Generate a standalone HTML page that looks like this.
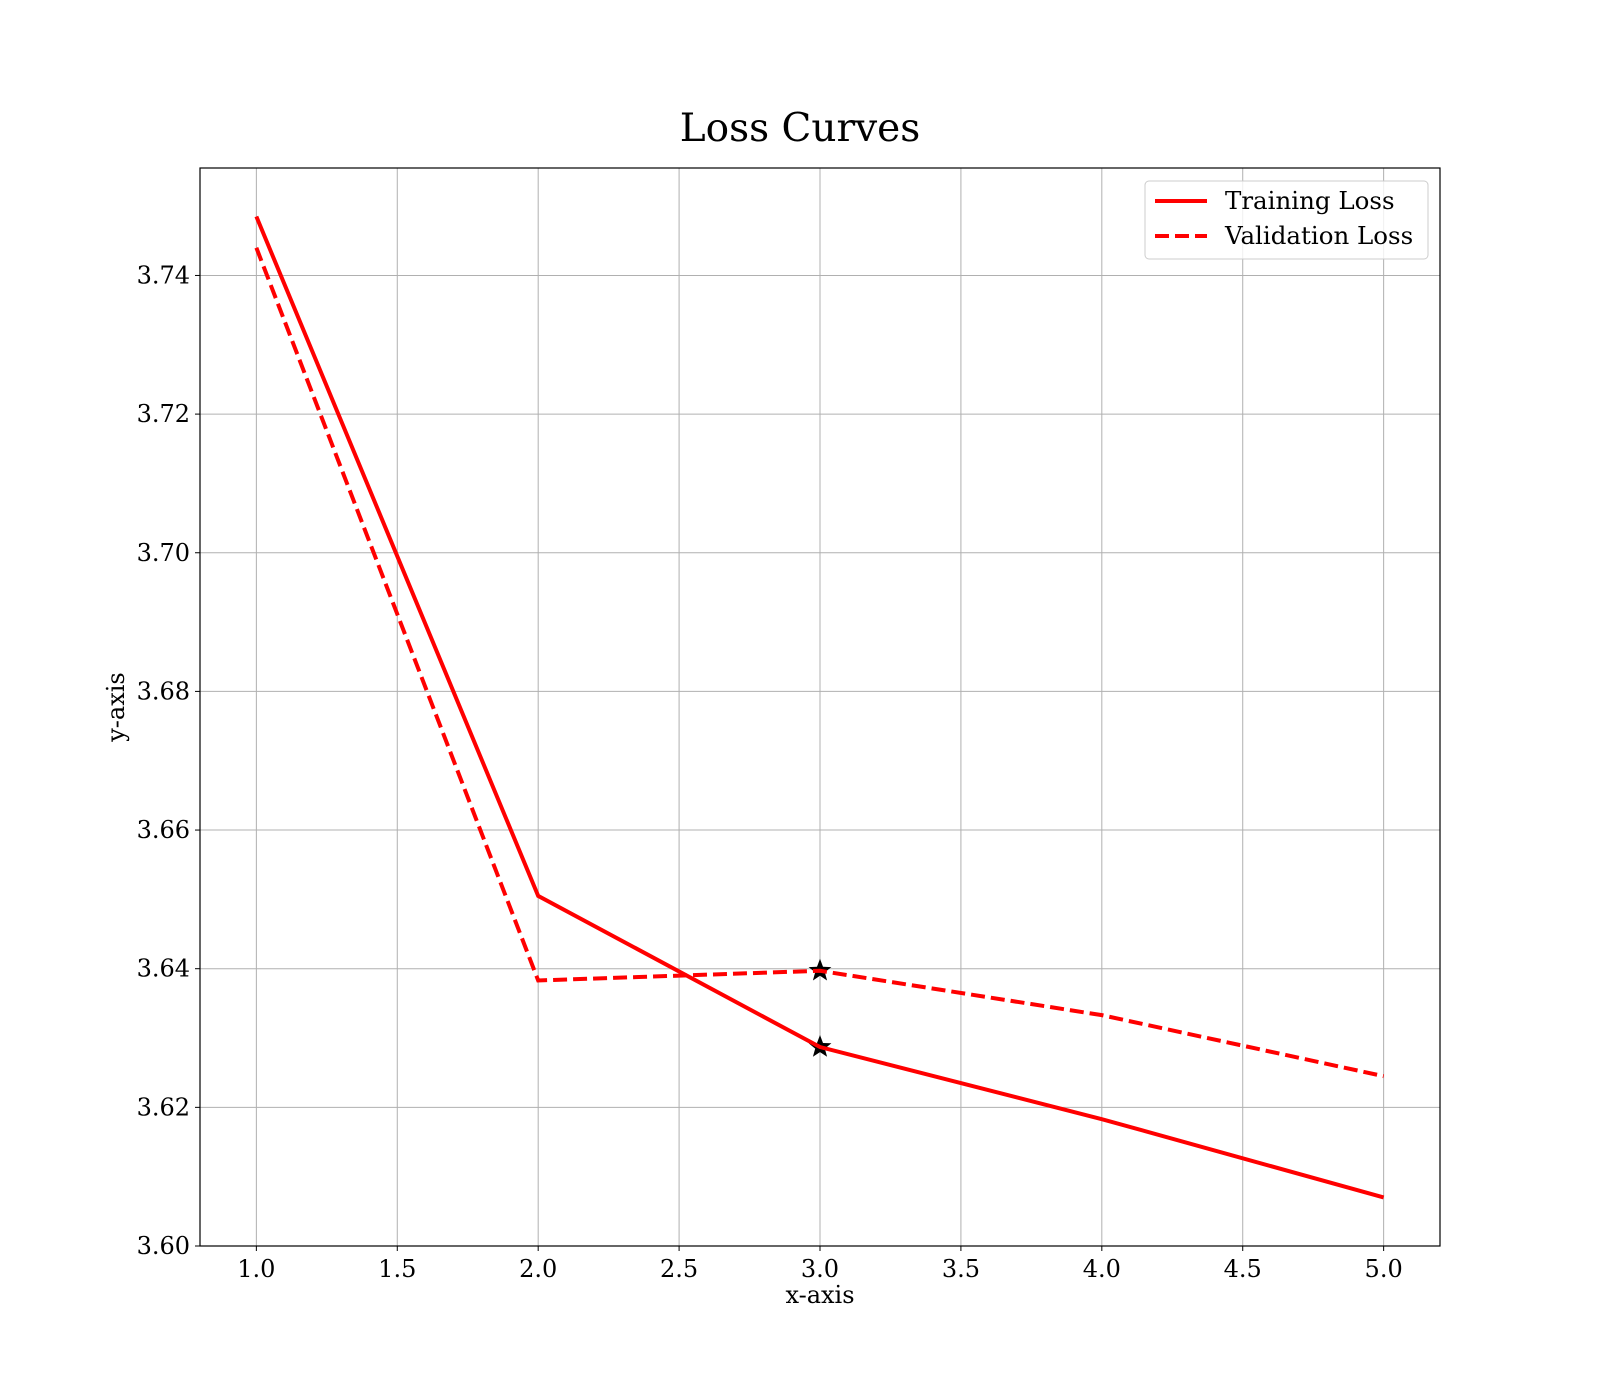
<!DOCTYPE html>
<html><head><meta charset="utf-8"><style>
html,body{margin:0;padding:0;background:#fff}
svg{display:block;font-family:"DejaVu Serif","Liberation Serif",serif}
</style></head><body>
<svg id="chart" width="1600" height="1400" viewBox="0 0 1600 1400">
<rect width="1600" height="1400" fill="#fff"/>
<text x="800" y="141" text-anchor="middle" font-size="39">Loss Curves</text>
<g id="grid"></g>
<g id="ticks"></g>
<g id="series"></g>
<rect x="200" y="168" width="1240" height="1078" fill="none" stroke="#000" stroke-width="1.2"/>
<text x="820" y="1303" text-anchor="middle" font-size="24">x-axis</text>
<text transform="translate(124,707) rotate(-90)" text-anchor="middle" font-size="24">y-axis</text>
<g>
<rect x="1145" y="181" width="283" height="78" rx="4" fill="#fff" fill-opacity="0.8" stroke="#ccc"/>
<line x1="1155" y1="201" x2="1207" y2="201" stroke="#f00" stroke-width="4"/>
<text x="1225" y="209" font-size="24.5">Training Loss</text>
<line x1="1155" y1="236" x2="1207" y2="236" stroke="#f00" stroke-width="4" stroke-dasharray="14,6"/>
<text x="1225" y="244" font-size="24.5">Validation Loss</text>
</g>
</svg>
<script>
const epochs = [1, 2, 3, 4, 5];
const trainingLoss = [3.7485, 3.6505, 3.6287, 3.6183, 3.6070];
const validationLoss = [3.7440, 3.6383, 3.6397, 3.6333, 3.6245];
const markedEpoch = 3;
const xTicks = [1.0, 1.5, 2.0, 2.5, 3.0, 3.5, 4.0, 4.5, 5.0];
const yTicks = [3.60, 3.62, 3.64, 3.66, 3.68, 3.70, 3.72, 3.74];

const L=200,R=1440,T=168,B=1246, X0=0.8,X1=5.2, Y0=3.60,Y1=3.7555;
const sx=v=>L+(v-X0)/(X1-X0)*(R-L);
const sy=v=>B-(v-Y0)/(Y1-Y0)*(B-T);
const NS="http://www.w3.org/2000/svg";
function mk(tag,attrs,parent){const e=document.createElementNS(NS,tag);for(const k in attrs)e.setAttribute(k,attrs[k]);parent.appendChild(e);return e;}
const grid=document.getElementById('grid'),ticks=document.getElementById('ticks'),series=document.getElementById('series');
xTicks.forEach(t=>{
  const x=sx(t);
  const g=mk('line',{x1:x,y1:T,x2:x,y2:B,stroke:'#b0b0b0','stroke-width':1},grid);
  
  
  const tk=mk('line',{x1:x,y1:B,x2:x,y2:B+5,stroke:'#000','stroke-width':1},ticks);
  
  
  const lb=mk('text',{x:x,y:B+31,'text-anchor':'middle','font-size':24},ticks);
  lb.textContent=t.toFixed(1);
  
  
});
yTicks.forEach(t=>{
  const y=sy(t);
  const g=mk('line',{x1:L,y1:y,x2:R,y2:y,stroke:'#b0b0b0','stroke-width':1},grid);
  
  
  const tk=mk('line',{x1:L-5,y1:y,x2:L,y2:y,stroke:'#000','stroke-width':1},ticks);
  
  
  const lb=mk('text',{x:L-10,y:y+8,'text-anchor':'end','font-size':24},ticks);
  lb.textContent=t.toFixed(2);
  
  
});
function star(cx,cy,r){let p=[];for(let i=0;i<10;i++){const a=-Math.PI/2+i*Math.PI/5;const rr=i%2?r*0.42:r;p.push((cx+rr*Math.cos(a)).toFixed(1)+','+(cy+rr*Math.sin(a)).toFixed(1));}return p.join(' ');}
const idx=epochs.indexOf(markedEpoch);
[trainingLoss,validationLoss].forEach((s,k)=>{
  const st=mk('polygon',{points:star(sx(markedEpoch),sy(s[idx]),12),fill:'#000'},series);
  
  
});
const tl=mk('polyline',{points:epochs.map((e,i)=>sx(e)+','+sy(trainingLoss[i])).join(' '),fill:'none',stroke:'#f00','stroke-width':4},series);


const vl=mk('polyline',{points:epochs.map((e,i)=>sx(e)+','+sy(validationLoss[i])).join(' '),fill:'none',stroke:'#f00','stroke-width':4,'stroke-dasharray':'14,6'},series);


</script>
</body></html>
